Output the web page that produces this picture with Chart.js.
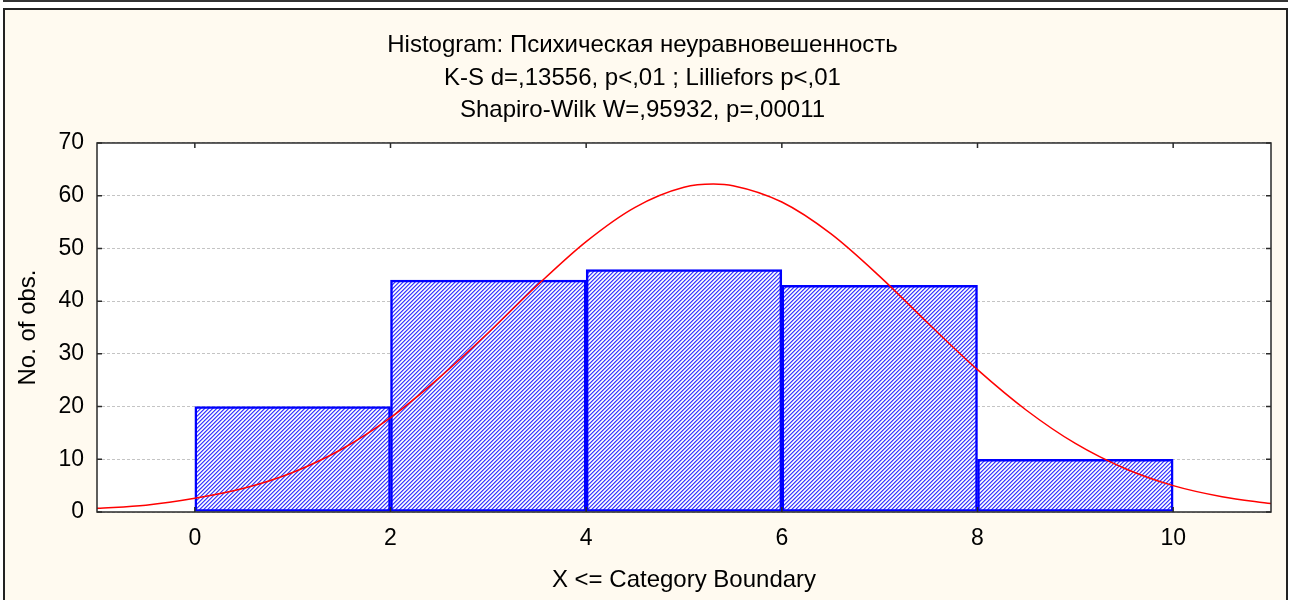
<!DOCTYPE html>
<html>
<head>
<meta charset="utf-8">
<script src="https://cdn.jsdelivr.net/npm/chart.js@4.4.1/dist/chart.umd.min.js"></script>
<style>
  body { margin: 0; background: #fff; overflow: hidden; }
  #topline { position: absolute; left: 3px; top: 0; width: 1285px; height: 2px; background: #333; }
  #panel { position: absolute; left: 3px; top: 8px; width: 1281px; height: 600px;
           border: 2px solid #222; background: #fffaf0; }
  #mycanvas { position: absolute; left: 0; top: 0; }
</style>
</head>
<body>
<div id="topline"></div>
<div id="panel"></div>
<canvas id="mycanvas" width="1295" height="600"></canvas>
<script>
// histogram bins (centre of each 2-wide class) and counts
var binCenters = [1, 3, 5, 7, 9];
var counts = [20, 44, 46, 43, 10];

// expected normal curve
var curveX = [-1, -0.5, 0, 0.5, 1, 1.5, 2, 2.5, 3, 3.5, 4, 4.5, 5, 5.3, 5.5, 6, 6.5, 7, 7.5, 8, 8.5, 9, 9.5, 10, 10.5, 11];
var curveY = [0.7, 1.3, 2.6, 4.5, 7.5, 11.9, 17.9, 25.5, 34.0, 43.0, 51.3, 57.8, 61.6, 62.2, 61.9, 58.8, 52.8, 44.7, 35.7, 27.0, 19.3, 13.0, 8.3, 5.0, 2.9, 1.6];

var xTicks = [0, 2, 4, 6, 8, 10];
var yTicks = [0, 10, 20, 30, 40, 50, 60, 70];

var titleLines = [
    "Histogram: Психическая неуравновешенность",
    "K-S d=,13556, p<,01 ; Lilliefors p<,01",
    "Shapiro-Wilk W=,95932, p=,00011"
];

var FONT = "'Liberation Sans', Arial, sans-serif";

// diagonal hatch for the bars
function makeHatch() {
    var c = document.createElement('canvas');
    c.width = 4; c.height = 4;
    var g = c.getContext('2d');
    var shades = ['#3c3cff', '#9494ff', '#ffffff', '#dcdcff'];
    for (var x = 0; x < 4; x++) {
        for (var y = 0; y < 4; y++) {
            g.fillStyle = shades[(x + y) % 4];
            g.fillRect(x, y, 1, 1);
        }
    }
    return g.createPattern(c, 'repeat');
}

var plotFrame = {
    id: 'plotFrame',
    beforeDraw: function (chart) {
        var a = chart.chartArea, ctx = chart.ctx;
        ctx.save();
        ctx.fillStyle = '#ffffff';
        ctx.fillRect(a.left, a.top, a.right - a.left, a.bottom - a.top);
        ctx.restore();
    },
    afterDraw: function (chart) {
        var a = chart.chartArea, ctx = chart.ctx;
        var xs = chart.scales.x, ys = chart.scales.y;
        ctx.save();
        ctx.strokeStyle = '#2a2a2a';
        ctx.lineWidth = 1.5;
        ctx.strokeRect(a.left, a.top, a.right - a.left, a.bottom - a.top);
        ctx.beginPath();
        yTicks.forEach(function (v) {
            var py = ys.getPixelForValue(v);
            ctx.moveTo(a.left, py); ctx.lineTo(a.left + 5, py);
            ctx.moveTo(a.right, py); ctx.lineTo(a.right - 5, py);
        });
        xTicks.forEach(function (v) {
            var px = xs.getPixelForValue(v);
            ctx.moveTo(px, a.top); ctx.lineTo(px, a.top + 5);
            ctx.moveTo(px, a.bottom); ctx.lineTo(px, a.bottom - 5);
        });
        ctx.stroke();
        ctx.restore();
    }
};

var ctx = document.getElementById('mycanvas').getContext('2d');

var curvePoints = [];
for (var i in curveX) {
    curvePoints.push({x: curveX[i], y: curveY[i]});
}
var barPoints = [];
for (var j in binCenters) {
    barPoints.push({x: binCenters[j], y: counts[j]});
}

var histo = new Chart(ctx, {
    type: 'bar',
    data: {
        datasets: [
            {
                type: 'line',
                label: 'Normal',
                data: curvePoints,
                borderColor: '#ff0000',
                borderWidth: 1.5,
                pointRadius: 0,
                cubicInterpolationMode: 'monotone',
                fill: false,
                order: 0
            },
            {
                label: 'No. of obs.',
                data: barPoints,
                backgroundColor: makeHatch(),
                borderColor: '#0000ff',
                borderWidth: 2.5,
                borderSkipped: false,
                barPercentage: 1,
                categoryPercentage: 1,
                order: 1
            }
        ]
    },
    options: {
        responsive: false,
        animation: false,
        layout: {padding: {left: 14, right: 24, top: 0, bottom: 0}},
        plugins: {
            legend: {display: false},
            tooltip: {enabled: false},
            title: {
                display: true,
                text: titleLines,
                color: '#000',
                font: {family: FONT, size: 24, weight: 'normal', lineHeight: 1.354},
                padding: {top: 29.5, bottom: 16}
            }
        },
        scales: {
            x: {
                type: 'linear',
                min: -1,
                max: 11,
                offset: false,
                grid: {display: false, drawTicks: false},
                border: {display: false},
                afterBuildTicks: function (scale) {
                    scale.ticks = xTicks.map(function (v) { return {value: v}; });
                },
                afterFit: function (scale) { scale.height = 88; },
                ticks: {color: '#000', font: {family: FONT, size: 23}, padding: 13, maxRotation: 0},
                title: {
                    display: true,
                    text: 'X <= Category Boundary',
                    color: '#000',
                    font: {family: FONT, size: 24},
                    padding: {top: 0, bottom: 5.6}
                }
            },
            y: {
                min: 0,
                max: 70,
                grid: {
                    color: '#c4c4c4',
                    lineWidth: 1,
                    drawTicks: false
                },
                border: {display: false, dash: [3, 2]},
                afterBuildTicks: function (scale) {
                    scale.ticks = yTicks.map(function (v) { return {value: v}; });
                },
                afterFit: function (scale) { scale.width = 83; },
                ticks: {color: '#000', font: {family: FONT, size: 23}, padding: 13},
                title: {
                    display: true,
                    text: 'No. of obs.',
                    color: '#000',
                    font: {family: FONT, size: 24},
                    padding: {top: -0.5, bottom: 0}
                }
            }
        }
    },
    plugins: [plotFrame]
});
</script>
</body>
</html>
